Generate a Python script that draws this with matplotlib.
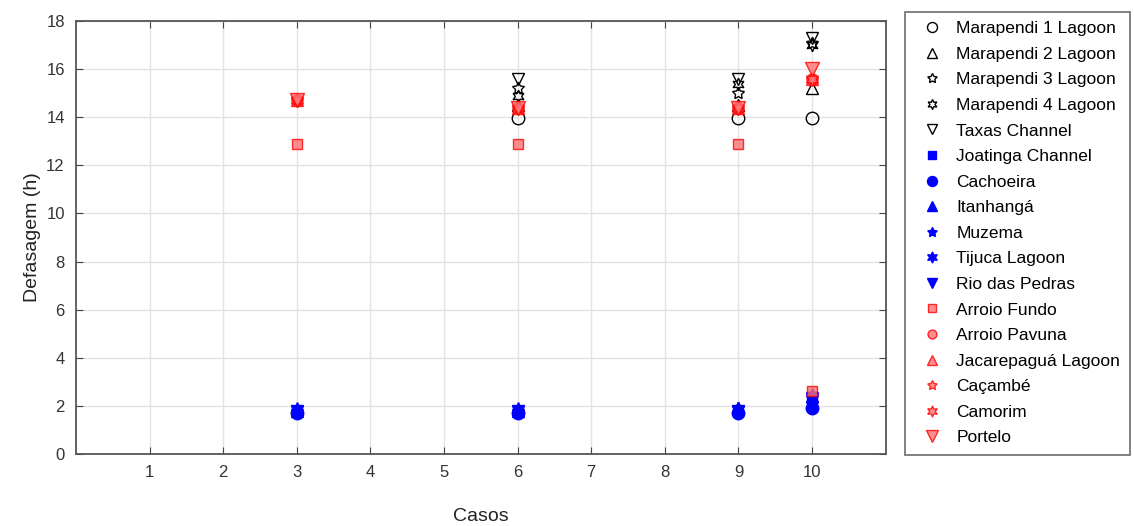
import numpy as np
import matplotlib.pyplot as plt

plt.rcParams['font.family'] = ['Liberation Sans', 'DejaVu Sans']

casos = [3, 6, 9, 10]
nan = np.nan

# defasagem (h) for each point, cases 3, 6, 9, 10
marapendi1 = [nan, 13.95, 13.95, 13.95]
marapendi2 = [nan, 14.5, 14.5, 15.2]
marapendi3 = [nan, 15.2, 15.0, 17.1]
marapendi4 = [nan, 14.9, 15.4, 17.0]
taxas = [nan, 15.6, 15.6, 17.3]
joatinga = [1.8, 1.8, 1.8, 2.3]
cachoeira = [1.7, 1.7, 1.7, 1.9]
itanhanga = [1.8, 1.8, 1.9, 2.4]
muzema = [1.8, 1.8, 1.9, 2.5]
tijuca = [1.85, 1.85, 1.85, 2.3]
rio_pedras = [1.8, 1.8, 1.8, 2.3]
arroio_fundo = [12.9, 12.9, 12.9, 2.6]
arroio_pavuna = [14.7, 14.4, 14.4, 15.6]
jacarepagua = [14.7, 14.4, 14.4, 15.6]
cacambe = [14.7, 14.4, 14.4, 15.6]
camorim = [14.7, 14.4, 14.4, 15.6]
portelo = [14.7, 14.4, 14.4, 16.0]

pent = (5, 1, 0)
hexa = (6, 1, 0)
red_face = (1, 0.45, 0.45)

series = [
    ('Marapendi 1 Lagoon', marapendi1, 'o', 'none', 'k', 9),
    ('Marapendi 2 Lagoon', marapendi2, '^', 'none', 'k', 9),
    ('Marapendi 3 Lagoon', marapendi3, pent, 'none', 'k', 9),
    ('Marapendi 4 Lagoon', marapendi4, hexa, 'none', 'k', 9),
    ('Taxas Channel', taxas, 'v', 'none', 'k', 9),
    ('Joatinga Channel', joatinga, 's', 'b', 'b', 7),
    ('Cachoeira', cachoeira, 'o', 'b', 'b', 9),
    ('Itanhangá', itanhanga, '^', 'b', 'b', 9),
    ('Muzema', muzema, pent, 'b', 'b', 9),
    ('Tijuca Lagoon', tijuca, hexa, 'b', 'b', 10),
    ('Rio das Pedras', rio_pedras, 'v', 'b', 'b', 9),
    ('Arroio Fundo', arroio_fundo, 's', red_face, 'r', 7),
    ('Arroio Pavuna', arroio_pavuna, 'o', red_face, 'r', 8),
    ('Jacarepaguá Lagoon', jacarepagua, '^', red_face, 'r', 9),
    ('Caçambé', cacambe, pent, red_face, 'r', 9),
    ('Camorim', camorim, hexa, red_face, 'r', 10),
    ('Portelo', portelo, 'v', red_face, 'r', 10),
]

fig = plt.figure(figsize=(11.34, 5.26), dpi=100)
ax = fig.add_axes([0.067, 0.137, 0.714, 0.823])

for name, vals, mk, fc, ec, ms in series:
    a = 0.8 if ec == 'r' else 1
    ax.plot(casos, vals, linestyle='none', marker=mk, markersize=ms,
            markerfacecolor=fc, markeredgecolor=ec, markeredgewidth=1,
            alpha=a, label=name)

ax.set_xlim(0, 11)
ax.set_ylim(0, 18)
ax.set_xticks(range(1, 11))
ax.set_yticks(range(0, 19, 2))
ax.grid(True, color='#e3e3e3', linewidth=1)
ax.set_axisbelow(True)
ax.tick_params(direction='in', top=True, right=True, length=5,
               color='#444444', labelsize=12, labelcolor='#333333', pad=8)
for s in ax.spines.values():
    s.set_color('#555555')
    s.set_linewidth(1.3)

ax.set_xlabel('Casos', fontsize=14, labelpad=20, color='#222222')
ax.set_ylabel('Defasagem (h)', fontsize=14, color='#222222')

leg = fig.legend(loc='upper left', bbox_to_anchor=(0.798, 0.978),
                 fontsize=12.5, frameon=True, fancybox=False, markerscale=0.8,
                 handletextpad=0.4, labelspacing=0.6, borderaxespad=0,
                 borderpad=0.55)
leg.get_frame().set_edgecolor('#555555')
leg.get_frame().set_linewidth(1.3)

plt.savefig('out.png', dpi=100)
